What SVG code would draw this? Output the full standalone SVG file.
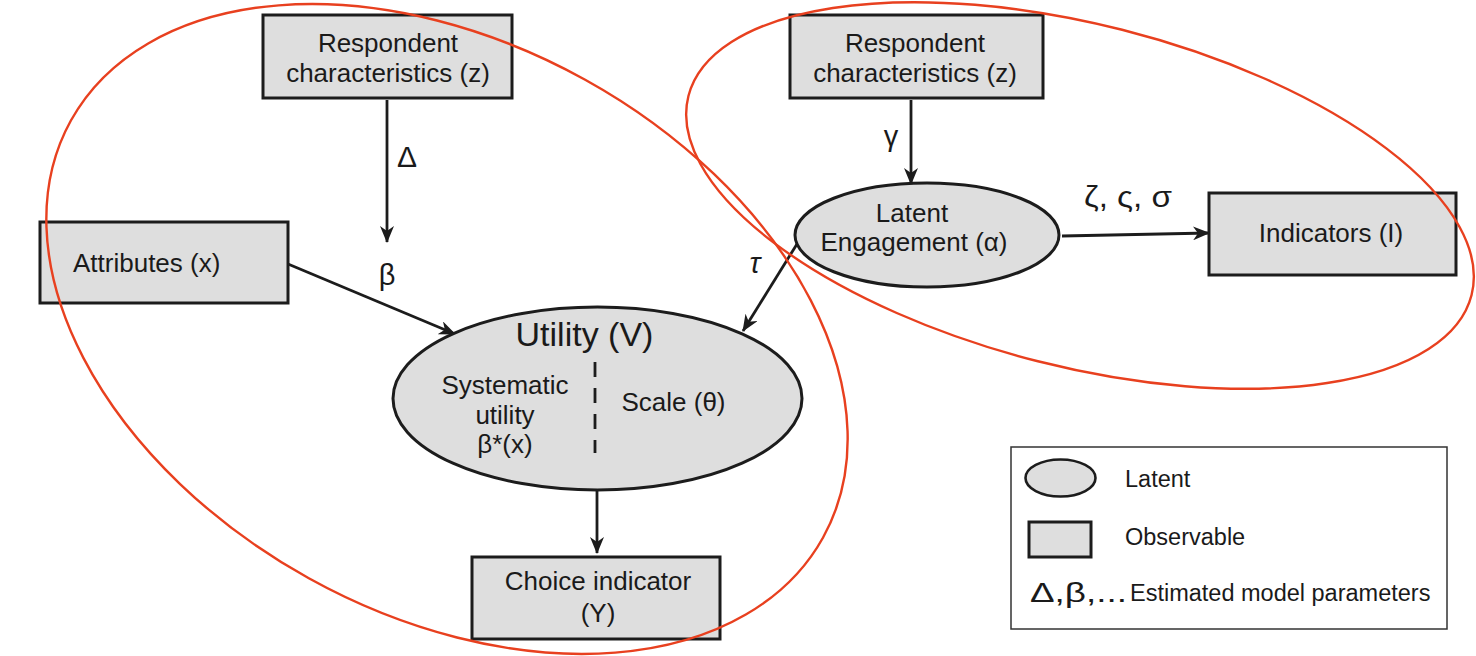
<svg xmlns="http://www.w3.org/2000/svg" width="1476" height="656" viewBox="0 0 1476 656">
<style>
.box{fill:#dedede;stroke:#1c1c1c;stroke-width:3}
.ell{fill:#dedede;stroke:#1c1c1c;stroke-width:3}
.t{font-family:"Liberation Sans",Arial,sans-serif;font-size:26px;fill:#1a1a1a;text-anchor:middle}
.lbl{font-family:"Liberation Sans",Arial,sans-serif;font-size:29px;fill:#1a1a1a;text-anchor:middle}
.con{stroke:#1c1c1c;stroke-width:2.8;fill:none;marker-end:url(#ah)}
.red{fill:none;stroke:#e8401f;stroke-width:2.4}
.leg{font-family:"Liberation Sans",Arial,sans-serif;font-size:23.5px;fill:#1a1a1a}
</style>
<defs>
<marker id="ah" markerWidth="18" markerHeight="14" refX="16" refY="7" orient="auto" markerUnits="userSpaceOnUse">
<path d="M0,0 L17,7 L0,14 L5,7 z" fill="#1c1c1c"/>
</marker>
</defs>
<rect width="1476" height="656" fill="#ffffff"/>

<g id="connectors">
<line class="con" x1="387" y1="100" x2="387" y2="242"/>
<line class="con" x1="288" y1="264" x2="455" y2="334"/>
<line class="con" x1="797" y1="244" x2="743" y2="331"/>
<line class="con" x1="911" y1="100" x2="911" y2="184"/>
<line class="con" x1="1062" y1="236" x2="1209" y2="233"/>
<line class="con" x1="597" y1="490" x2="597" y2="553"/>
<text class="lbl" x="407" y="167" style="font-size:30px">Δ</text>
<text class="lbl" x="387" y="285">β</text>
<text class="lbl" x="891" y="146">γ</text>
<text class="lbl" x="755" y="273" font-style="italic">τ</text>
<text class="lbl" x="1128" y="207" style="font-size:30px" textLength="88" lengthAdjust="spacingAndGlyphs">ζ, ς, σ</text>
</g>

<g id="node-resp1">
<rect class="box" x="263" y="15" width="249" height="83"/>
<text class="t" x="388" y="52">Respondent</text>
<text class="t" x="388" y="82">characteristics (z)</text>
</g>

<g id="node-attr">
<rect class="box" x="40" y="222" width="248" height="81"/>
<text class="t" x="73" y="272" style="text-anchor:start">Attributes (x)</text>
</g>

<g id="node-utility">
<ellipse class="ell" cx="597.5" cy="398.5" rx="204.5" ry="91.5"/>
<text class="t" x="584.5" y="346" style="font-size:34px">Utility (V)</text>
<line x1="595" y1="362" x2="595" y2="453" stroke="#1c1c1c" stroke-width="2.8" stroke-dasharray="15,11"/>
<text class="t" x="505" y="394">Systematic</text>
<text class="t" x="505" y="424">utility</text>
<text class="t" x="505" y="453">β*(x)</text>
<text class="t" x="673.5" y="411">Scale (θ)</text>
</g>

<g id="node-choice">
<rect class="box" x="472" y="557" width="248" height="82"/>
<text class="t" x="598" y="590">Choice indicator</text>
<text class="t" x="598" y="622">(Y)</text>
</g>

<g id="node-resp2">
<rect class="box" x="790" y="15" width="253" height="83"/>
<text class="t" x="915" y="52">Respondent</text>
<text class="t" x="915" y="82">characteristics (z)</text>
</g>

<g id="node-latent">
<ellipse class="ell" cx="927" cy="235" rx="132" ry="52"/>
<text class="t" x="912" y="222">Latent</text>
<text class="t" x="914" y="251">Engagement (α)</text>
</g>

<g id="node-indicators">
<rect class="box" x="1209" y="193" width="247" height="82"/>
<text class="t" x="1331" y="242">Indicators (I)</text>
</g>

<g id="red-outlines">
<ellipse class="red" cx="447" cy="329" rx="430" ry="285" transform="rotate(29 447 329)"/>
<ellipse class="red" cx="1080" cy="195.5" rx="404" ry="171" transform="rotate(14.25 1080 195.5)"/>
</g>

<g id="legend">
<rect x="1011" y="447" width="436" height="182" fill="#ffffff" stroke="#333333" stroke-width="1.5"/>
<ellipse cx="1060.5" cy="478" rx="35" ry="18.5" fill="#dedede" stroke="#1c1c1c" stroke-width="2.6"/>
<rect x="1029" y="522" width="62" height="35" fill="#dedede" stroke="#1c1c1c" stroke-width="3"/>
<text class="leg" x="1125" y="487">Latent</text>
<text class="leg" x="1125" y="545">Observable</text>
<text class="leg" x="1030" y="602" style="font-size:28px" textLength="97" lengthAdjust="spacingAndGlyphs">Δ,β,...</text>
<text class="leg" x="1130" y="601">Estimated model parameters</text>
</g>
</svg>
